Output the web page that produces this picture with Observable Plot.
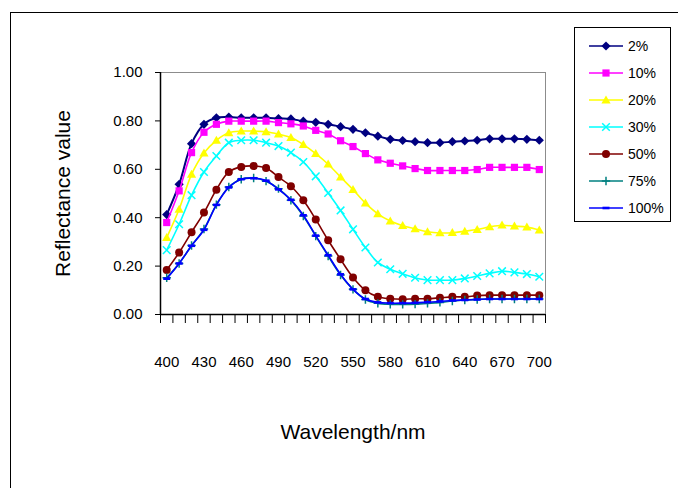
<!DOCTYPE html>
<html>
<head>
<meta charset="utf-8">
<script src="https://cdn.jsdelivr.net/npm/d3@7"></script>
<script src="https://cdn.jsdelivr.net/npm/@observablehq/plot@0.6"></script>
<style>
  body { margin: 0; background: #fff; overflow: hidden; font-family: "Liberation Sans", Arial, sans-serif; }
  #wrap { position: relative; width: 678px; height: 488px; overflow: hidden; }
  #outer { position: absolute; left: 10px; top: 12px; width: 720px; height: 520px;
           border-left: 1.5px solid #000; border-top: 1.5px solid #000; }
  #chart { position: absolute; left: 0; top: 0; }
  #legend { position: absolute; left: 574px; top: 27px; width: 97px; height: 195px;
            border: 1px solid #000; background: #fff; box-sizing: border-box; }
  .row { position: absolute; left: 0; height: 16px; width: 97px; }
  .row svg { position: absolute; left: 14px; top: 1px; }
  .row span { position: absolute; left: 53px; top: 0; font-size: 14px; line-height: 16px; color: #000; }
</style>
</head>
<body>
<div id="wrap">
  <div id="outer"></div>
  <div id="chart"></div>
  <div id="legend"></div>
</div>
<script>
// Wavelength categories (nm)
const wavelengths = [400, 410, 420, 430, 440, 450, 460, 470, 480, 490, 500,
                     510, 520, 530, 540, 550, 560, 570, 580, 590, 600,
                     610, 620, 630, 640, 650, 660, 670, 680, 690, 700];

// Reflectance per concentration
const r2   = [0.413, 0.538, 0.706, 0.786, 0.813, 0.816, 0.813, 0.813, 0.813, 0.810, 0.808,
              0.799, 0.794, 0.786, 0.776, 0.765, 0.751, 0.737, 0.724, 0.719, 0.714,
              0.710, 0.710, 0.714, 0.717, 0.720, 0.726, 0.726, 0.726, 0.724, 0.720];
const r10  = [0.380, 0.511, 0.669, 0.753, 0.786, 0.799, 0.799, 0.799, 0.799, 0.793, 0.788,
              0.779, 0.761, 0.746, 0.718, 0.694, 0.665, 0.639, 0.625, 0.614, 0.603,
              0.595, 0.595, 0.595, 0.595, 0.599, 0.608, 0.608, 0.608, 0.608, 0.599];
const r20  = [0.318, 0.435, 0.579, 0.667, 0.720, 0.751, 0.758, 0.758, 0.755, 0.745, 0.731,
              0.702, 0.665, 0.621, 0.568, 0.516, 0.460, 0.416, 0.386, 0.367, 0.354,
              0.342, 0.337, 0.338, 0.344, 0.351, 0.362, 0.369, 0.365, 0.361, 0.349];
const r30  = [0.266, 0.373, 0.493, 0.589, 0.655, 0.710, 0.720, 0.720, 0.710, 0.696, 0.669,
              0.630, 0.571, 0.502, 0.430, 0.352, 0.277, 0.215, 0.187, 0.168, 0.152,
              0.142, 0.142, 0.142, 0.149, 0.159, 0.170, 0.179, 0.174, 0.167, 0.156];
const r50  = [0.184, 0.256, 0.340, 0.421, 0.516, 0.589, 0.610, 0.614, 0.605, 0.568, 0.530,
              0.472, 0.393, 0.307, 0.228, 0.153, 0.100, 0.073, 0.065, 0.063, 0.065,
              0.065, 0.069, 0.073, 0.073, 0.078, 0.080, 0.080, 0.080, 0.080, 0.080];
const r75  = [0.152, 0.211, 0.285, 0.353, 0.454, 0.527, 0.559, 0.564, 0.551, 0.520, 0.472,
              0.407, 0.324, 0.242, 0.163, 0.104, 0.062, 0.046, 0.042, 0.042, 0.043,
              0.046, 0.050, 0.056, 0.060, 0.062, 0.064, 0.064, 0.064, 0.064, 0.064];
const r100 = [0.148, 0.211, 0.284, 0.350, 0.453, 0.525, 0.559, 0.563, 0.553, 0.517, 0.474,
              0.410, 0.326, 0.245, 0.166, 0.104, 0.064, 0.050, 0.047, 0.047, 0.048,
              0.051, 0.054, 0.058, 0.060, 0.062, 0.064, 0.064, 0.064, 0.064, 0.064];

const seriesLabels = ["2%", "10%", "20%", "30%", "50%", "75%", "100%"];
const seriesValues = [r2, r10, r20, r30, r50, r75, r100];
const seriesColors = ["#000080", "#FF00FF", "#FFFF00", "#00FFFF", "#800000", "#008080", "#0000FF"];
const seriesMarkers = ["diamond", "square", "triangle", "cross", "circle", "plus", "dash"];

// Axis ticks
const xLabelTicks = [400, 430, 460, 490, 520, 550, 580, 610, 640, 670, 700];
const yTicks = [0, 0.2, 0.4, 0.6, 0.8, 1.0];

// Category boundaries for the minor tick marks (half a step either side of each category)
const xBoundaries = [wavelengths[0] - 5, ...wavelengths.map(w => w + 5)];

// Marker shapes in the style of spreadsheet charts
const shapes = {
  diamond: { filled: true, draw(c) { const r = 4.6; c.moveTo(0, -r); c.lineTo(r, 0); c.lineTo(0, r); c.lineTo(-r, 0); c.closePath(); } },
  square:  { filled: true, draw(c) { const h = 3.6; c.rect(-h, -h, 2 * h, 2 * h); } },
  triangle:{ filled: true, draw(c) { c.moveTo(0, -4.6); c.lineTo(4.6, 3.4); c.lineTo(-4.6, 3.4); c.closePath(); } },
  cross:   { filled: false, draw(c) { const h = 3.8; c.moveTo(-h, -h); c.lineTo(h, h); c.moveTo(h, -h); c.lineTo(-h, h); } },
  circle:  { filled: true, draw(c) { c.moveTo(4, 0); c.arc(0, 0, 4, 0, 2 * Math.PI); } },
  plus:    { filled: false, draw(c) { const h = 4.2; c.moveTo(-h, 0); c.lineTo(h, 0); c.moveTo(0, -h); c.lineTo(0, h); } },
  dash:    { filled: true, draw(c) { c.rect(-3.5, -1.3, 7, 2.6); } }
};

const series = seriesLabels.map((label, k) => ({
  label, color: seriesColors[k], shape: shapes[seriesMarkers[k]],
  rows: wavelengths.map((w, i) => ({ w, v: seriesValues[k][i] }))
}));

const seriesMarks = series.flatMap(s => [
  Plot.line(s.rows, { x: "w", y: "v", stroke: s.color, strokeWidth: s.label === "2%" ? 2 : 1.6, curve: "catmull-rom" }),
  Plot.dot(s.rows, {
    x: "w", y: "v", symbol: s.shape,
    fill: s.shape.filled ? s.color : "none",
    stroke: s.shape.filled ? "none" : s.color,
    strokeWidth: 1.5
  })
]);

const chart = Plot.plot({
  width: 678,
  height: 488,
  marginLeft: 160,
  marginRight: 133,
  marginTop: 72,
  marginBottom: 174,
  style: { fontFamily: "Liberation Sans, Arial, sans-serif", fontSize: "14px", background: "transparent", color: "#000", overflow: "visible" },
  x: { domain: [395, 705] },
  y: { domain: [0, 1] },
  marks: [
    Plot.frame({ stroke: "#8c8c8c", strokeWidth: 1 }),
    ...seriesMarks,
    Plot.axisX(xBoundaries, { tickSize: 9, tickFormat: () => "", label: null, stroke: "#000", strokeWidth: 1 }),
    Plot.axisX(xLabelTicks, { tickSize: 0, tickPadding: 42, fontSize: 15, label: null, tickFormat: d => String(d) }),
    Plot.axisY(yTicks, { tickSize: 5, tickPadding: 13, fontSize: 15, label: null, tickFormat: d3.format(".2f") }),
    Plot.ruleY([0], { stroke: "#000", strokeWidth: 1.5 }),
    Plot.ruleX([395], { stroke: "#000", strokeWidth: 1.5 }),
    Plot.text(["Wavelength/nm"], { frameAnchor: "bottom", dy: 124, fontSize: 21, fill: "#000" }),
    Plot.text(["Reflectance value"], { frameAnchor: "left", textAnchor: "middle", dx: -97, rotate: -90, fontSize: 21, fill: "#000" })
  ]
});
document.getElementById("chart").appendChild(chart);

// Legend
const legend = document.getElementById("legend");
series.forEach((s, k) => {
  const row = document.createElement("div");
  row.className = "row";
  row.style.top = (10 + 27 * k) + "px";
  const svg = d3.create("svg").attr("width", 36).attr("height", 14);
  svg.append("line").attr("x1", 0).attr("x2", 34).attr("y1", 7).attr("y2", 7)
    .attr("stroke", s.color).attr("stroke-width", 1.6);
  const p = d3.path();
  s.shape.draw(p);
  svg.append("path").attr("d", p.toString()).attr("transform", "translate(17,7)")
    .attr("fill", s.shape.filled ? s.color : "none")
    .attr("stroke", s.shape.filled ? "none" : s.color).attr("stroke-width", 1.5);
  row.appendChild(svg.node());
  const t = document.createElement("span");
  t.textContent = s.label;
  row.appendChild(t);
  legend.appendChild(row);
});
</script>
</body>
</html>
